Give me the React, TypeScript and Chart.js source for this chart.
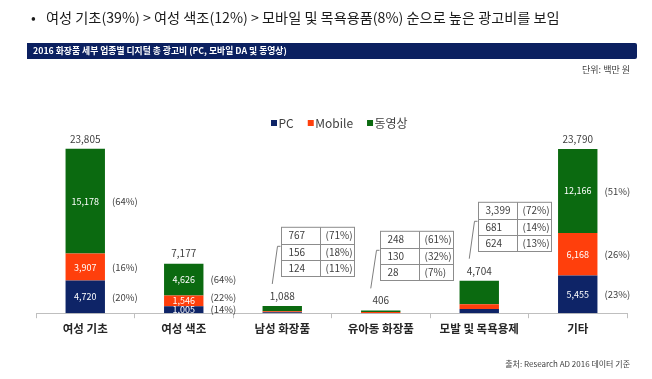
import React, { useEffect, useRef } from 'react';
import { Chart, registerables } from 'chart.js';

Chart.register(...registerables);

const FONT = '"Noto Sans CJK KR", "Noto Sans", sans-serif';

const categories = ['여성 기초', '여성 색조', '남성 화장품', '유아동 화장품', '모발 및 목욕용제', '기타'];
const seriesNames = ['PC', 'Mobile', '동영상'];
const pcValues = [4720, 1005, 124, 28, 624, 5455];
const mobileValues = [3907, 1546, 156, 130, 681, 6168];
const videoValues = [15178, 4626, 767, 248, 3399, 12166];
const totalValues = [23805, 7177, 1088, 406, 4704, 23790];
const pcPercents = [20, 14, 11, 7, 13, 23];
const mobilePercents = [16, 22, 18, 32, 14, 26];
const videoPercents = [64, 64, 71, 61, 72, 51];
const seriesColors = ['#0e2467', '#ff3f0c', '#0b6a10'];

const titleText = '여성 기초(39%) > 여성 색조(12%) > 모바일 및 목욕용품(8%) 순으로 높은 광고비를 보임';
const bannerText = '2016 화장품 세부 업종별 디지털 총 광고비 (PC, 모바일 DA 및 동영상)';
const unitText = '단위: 백만 원';
const sourceText = '출처: Research AD 2016 데이터 기준';

const fmt = (v: number) => v.toLocaleString('en-US');

export default function App() {
  const ref = useRef<HTMLCanvasElement>(null);

  useEffect(() => {
    if (!ref.current) return;
    const values = [pcValues, mobileValues, videoValues];
    const percents = [pcPercents, mobilePercents, videoPercents];

    const legendPlugin = {
      id: 'customLegend',
      afterDraw(chart: any) {
        const ctx = chart.ctx;
        ctx.save();
        ctx.font = `12px ${FONT}`;
        ctx.textBaseline = 'middle';
        ctx.textAlign = 'left';
        let x = 271;
        const y = 123;
        seriesNames.forEach((name, i) => {
          ctx.fillStyle = seriesColors[i];
          ctx.fillRect(x, y - 3, 6, 6);
          x += 7.5;
          ctx.fillStyle = '#404040';
          ctx.fillText(name, x, y);
          x += ctx.measureText(name).width + 14;
        });
        ctx.restore();
      },
    };

    const labelsPlugin = {
      id: 'barLabels',
      afterDatasetsDraw(chart: any) {
        const ctx = chart.ctx;
        const metas = [0, 1, 2].map((i) => chart.getDatasetMeta(i));
        ctx.save();
        categories.forEach((_, i) => {
          const bars = metas.map((m: any) => m.data[i]);
          const center = bars[0].x;
          const top = Math.min(...bars.map((b: any) => b.y));
          const right = center + bars[0].width / 2;
          const labelY = top - 10;
          ctx.font = `10px ${FONT}`;
          ctx.fillStyle = '#404040';
          ctx.textAlign = 'center';
          ctx.textBaseline = 'middle';
          ctx.fillText(fmt(totalValues[i]), center, labelY);

          if (totalValues[i] >= 5000) {
            let prev = Infinity;
            bars.forEach((b: any, s: number) => {
              const mid = (b.y + b.base) / 2;
              ctx.fillStyle = '#ffffff';
              ctx.font = `9px ${FONT}`;
              ctx.textAlign = 'center';
              ctx.fillText(fmt(values[s][i]), center, mid);
              const py = Math.min(mid, prev - 12.6);
              prev = py;
              ctx.fillStyle = '#404040';
              ctx.font = `9.5px ${FONT}`;
              ctx.textAlign = 'left';
              ctx.fillText(`(${percents[s][i]}%)`, right + 7, py);
            });
          } else {
            const w1 = 39;
            const w2 = 34;
            const rh = 16.4;
            const left = Math.round(center) - 0.5;
            const bottom = Math.round(labelY - 20) + 0.5;
            const tTop = bottom - 3 * rh;
            ctx.strokeStyle = '#8c8c8c';
            ctx.lineWidth = 1;
            ctx.strokeRect(left, tTop, w1 + w2, 3 * rh);
            ctx.beginPath();
            ctx.moveTo(left + w1, tTop);
            ctx.lineTo(left + w1, bottom);
            for (let r = 1; r < 3; r++) {
              ctx.moveTo(left, Math.round(tTop + r * rh) + 0.5);
              ctx.lineTo(left + w1 + w2, Math.round(tTop + r * rh) + 0.5);
            }
            ctx.stroke();
            const order = [2, 1, 0];
            ctx.font = `10px ${FONT}`;
            ctx.fillStyle = '#404040';
            ctx.textAlign = 'left';
            order.forEach((s, r) => {
              const cy = tTop + r * rh + rh / 2;
              ctx.fillText(fmt(values[s][i]), left + 7, cy);
              ctx.fillText(`(${percents[s][i]}%)`, left + w1 + 5, cy);
            });
            ctx.strokeStyle = '#7f7f7f';
            ctx.beginPath();
            ctx.moveTo(left - 1, tTop + 19);
            ctx.lineTo(left - 4, tTop + 19);
            ctx.lineTo(center - 10, labelY - 12);
            ctx.stroke();
          }
        });
        ctx.restore();
      },
    };

    const chart = new Chart(ref.current, {
      type: 'bar',
      data: {
        labels: categories,
        datasets: [0, 1, 2].map((s) => ({
          label: seriesNames[s],
          data: values[s],
          backgroundColor: seriesColors[s],
          borderWidth: 0,
          barPercentage: 0.4,
          categoryPercentage: 1.0,
        })),
      },
      options: {
        responsive: false,
        animation: false,
        layout: { padding: { top: 106, left: 36, right: 25, bottom: 39 } },
        plugins: {
          legend: { display: false },
          tooltip: { enabled: false },
          title: { display: false },
        },
        scales: {
          x: {
            stacked: true,
            grid: {
              display: true,
              drawOnChartArea: false,
              drawTicks: true,
              tickLength: 5,
              color: '#bfbfbf',
            },
            border: { display: true, color: '#bfbfbf' },
            ticks: {
              color: '#262626',
              font: { family: FONT, size: 11.5, weight: 'bold' },
              padding: 4,
              maxRotation: 0,
              autoSkip: false,
            },
          },
          y: { stacked: true, display: false, min: 0, max: 30000 },
        },
      },
      plugins: [legendPlugin, labelsPlugin],
    });
    return () => chart.destroy();
  }, []);

  const base: React.CSSProperties = { position: 'absolute', fontFamily: FONT, whiteSpace: 'nowrap' };

  return (
    <div style={{ position: 'fixed', left: 0, top: 0, width: 652, height: 379, background: '#fff', overflow: 'hidden' }}>
      <canvas ref={ref} width={652} height={379} style={{ position: 'absolute', left: 0, top: 0, width: 652, height: 379 }} />
      <div style={{ ...base, left: 31, top: 7, fontSize: 14, lineHeight: '20px', color: '#1a1a1a' }}>•</div>
      <div style={{ ...base, left: 46, top: 6, fontSize: 14.2, lineHeight: '22px', color: '#1a1a1a' }}>{titleText}</div>
      <div style={{ ...base, left: 27, top: 43, width: 610, height: 16, background: '#0b2060', borderRadius: '0 2px 2px 0' }}>
        <span style={{ position: 'absolute', left: 6, top: 0, fontSize: 8.8, lineHeight: '16px', color: '#fff', fontWeight: 'bold' }}>{bannerText}</span>
      </div>
      <div style={{ ...base, right: 22, top: 63, fontSize: 9, lineHeight: '14px', color: '#404040' }}>{unitText}</div>
      <div style={{ ...base, right: 22, top: 358, fontSize: 8, lineHeight: '12px', color: '#404040' }}>{sourceText}</div>
    </div>
  );
}
